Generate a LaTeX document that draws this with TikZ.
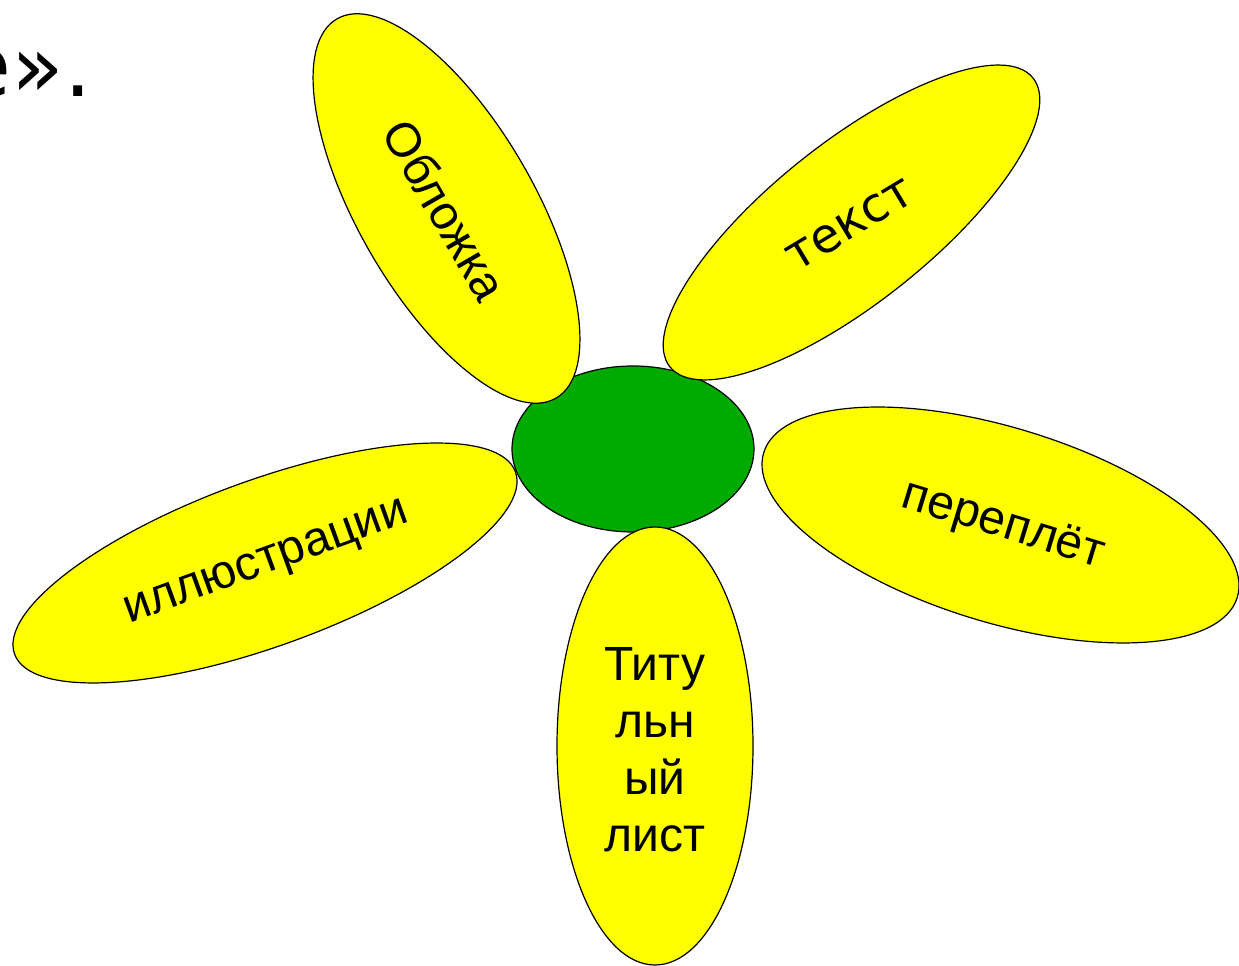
\documentclass[tikz,border=0pt]{standalone}
\usepackage{fontspec}
\setmainfont{Liberation Sans}
\newfontfamily\roundfont{DejaVu Sans}
\definecolor{petalyellow}{RGB}{255,255,0}
\definecolor{centergreen}{RGB}{0,170,0}
\tikzset{
  x=1pt, y=1pt,
  petal/.style={draw=black, fill=petalyellow, line width=1.2pt},
  core/.style={draw=black, fill=centergreen, line width=1.2pt},
  lbl/.style={font=\fontsize{48}{57}\selectfont, inner sep=0pt, align=center},
}
\begin{document}
\begin{tikzpicture}
\useasboundingbox (0,0) rectangle (1239,966);
% heading fragment (cut by the left edge, as in the reference)
\node[anchor=base east, inner sep=0pt, font=\roundfont\fontsize{86}{90}\selectfont] (head) at (92,869) {е».};
% center
\draw[core] (633,517) ellipse (121 and 83);
% petals
\draw[petal, rotate around={-60:(446.5,757.5)}] (446.5,757.5) ellipse (219 and 88);
\draw[petal, rotate around={38.5:(851.5,743.5)}] (851.5,743.5) ellipse (232 and 80);
\draw[petal, rotate around={-17:(1000.5,441)}] (1000.5,441) ellipse (247.6 and 97.4);
\draw[petal] (655,220) ellipse (98 and 219);
\draw[petal, rotate around={20:(265,403)}] (265,403) ellipse (266.5 and 83);
% labels
\node[lbl, rotate=-60] (cover) at (445,756) {Обложка};
\node[lbl, rotate=31, font=\roundfont\fontsize{48}{57}\selectfont] (text) at (850,741) {текст};
\node[lbl, rotate=-17] (binding) at (1003,440) {переплёт};
\node[lbl] (title) at (655,216) {Титу\\льн\\ый\\лист};
\node[lbl, rotate=20] (illus) at (267,401) {иллюстрации};
\end{tikzpicture}
\end{document}
